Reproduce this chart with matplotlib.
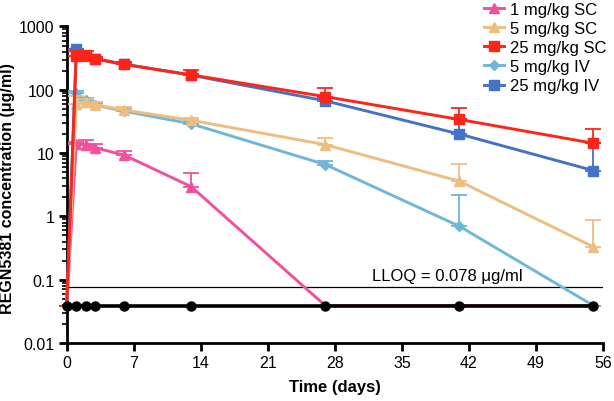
import matplotlib
matplotlib.use("Agg")
import matplotlib.pyplot as plt
import numpy as np
from matplotlib.ticker import LogLocator, NullFormatter

plt.rcParams['font.family'] = ['Liberation Sans', 'DejaVu Sans']

days = [0, 1, 2, 3, 6, 13, 27, 41, 55]
BLQ = 0.039

sc1 = [0.039, 14.0, 13.6, 12.1, 9.3, 2.95, 0.039, 0.039, 0.039]
sc1_up = [0.039, 15.2, 15.9, 14.1, 10.8, 4.8, 0.039, 0.039, 0.039]

sc5 = [0.039, 60, 65, 58, 48, 33, 13.6, 3.6, 0.33]
sc5_up = [0.039, 80, 72, 64, 53, 36, 17.4, 6.7, 0.88]

sc25 = [0.039, 345, 355, 305, 252, 172, 78, 34, 14.3]
sc25_up = [0.039, 415, 405, 335, 272, 207, 107, 51, 24]

iv5 = [0.039, 88, 68, 57, 46, 29, 6.6, 0.70, 0.039]
iv5_up = [0.039, 95, 73, 61, 50, 32, 7.4, 2.15, 0.039]

iv25 = [0.039, 435, 345, 312, 254, 170, 67, 20, 5.3]
iv25_up = [0.039, 445, 355, 322, 264, 180, 75, 34, 14.5]

control = [BLQ] * len(days)

labels = ["1 mg/kg SC", "5 mg/kg SC", "25 mg/kg SC", "5 mg/kg IV", "25 mg/kg IV"]
colors = ["#F2509C", "#EDBE80", "#FF2418", "#70B6D9", "#4472C4"]
markers = ["^", "^", "s", "D", "s"]
msizes = [7, 7, 6.5, 5.5, 6.5]
series = [sc1, sc5, sc25, iv5, iv25]
uppers = [sc1_up, sc5_up, sc25_up, iv5_up, iv25_up]
zorders = [5, 6, 8, 5, 7]

LLOQ = 0.078

fig = plt.figure(figsize=(6.14, 4.02), dpi=100)
ax = fig.add_axes([0.1086, 0.1443, 0.8734, 0.7873])

handles = {}
for lab, col, mk, ms, y, up, z in zip(labels, colors, markers, msizes, series, uppers, zorders):
    y = np.array(y); up = np.array(up)
    err = np.vstack([np.zeros_like(y), np.clip(up - y, 0, None)])
    ax.errorbar(days, y, yerr=err, fmt='none', ecolor=col, elinewidth=1.3,
                capsize=5.5, capthick=1.3, zorder=z - 0.5, clip_on=False)
    show = [i for i, v in enumerate(y) if v > LLOQ]
    h, = ax.plot(days, y, color=col, lw=2.1, marker=mk, ms=ms, mec=col, mfc=col,
                 markevery=show, zorder=z, clip_on=False, label=lab)
    handles[lab] = h

ax.axhline(LLOQ, color='black', lw=0.9, zorder=4)
ax.text(39.7, 0.118, "LLOQ = 0.078 μg/ml", fontsize=12, ha='center', va='center')

ax.plot(days, control, color='black', lw=2.6, marker='o', ms=6.5, zorder=10, clip_on=False)

ax.set_yscale('log')
ax.set_ylim(0.01, 1000)
ax.set_xlim(0, 56)
ax.set_xticks(np.arange(0, 57, 7))
ax.set_yticks([0.01, 0.1, 1, 10, 100, 1000])
ax.set_yticklabels(["0.01", "0.1", "1", "10", "100", "1000"])
ax.yaxis.set_minor_locator(LogLocator(base=10, subs=np.arange(2, 10)))
ax.yaxis.set_minor_formatter(NullFormatter())

for s in ['top', 'right']:
    ax.spines[s].set_visible(False)
for s in ['left', 'bottom']:
    ax.spines[s].set_linewidth(2.0)
ax.tick_params(axis='both', which='major', length=6, width=2.0, labelsize=11.5,
               direction='out', pad=3)
ax.tick_params(axis='y', which='minor', length=3.5, width=1.2)

ax.set_xlabel("Time (days)", fontsize=12, fontweight='bold')
ax.xaxis.set_label_coords(0.5, -0.113)
ax.set_ylabel("REGN5381 concentration (μg/ml)", fontsize=11.5, fontweight='bold')
ax.yaxis.set_label_coords(-0.096, 0.49)

leg = fig.legend(handles=[handles[l] for l in labels], loc='upper right',
                 bbox_to_anchor=(0.988, 0.993), frameon=False, fontsize=12,
                 handlelength=1.2, handletextpad=0.35, labelspacing=0.25,
                 borderpad=0, borderaxespad=0)

fig.savefig("out.png", dpi=100)
